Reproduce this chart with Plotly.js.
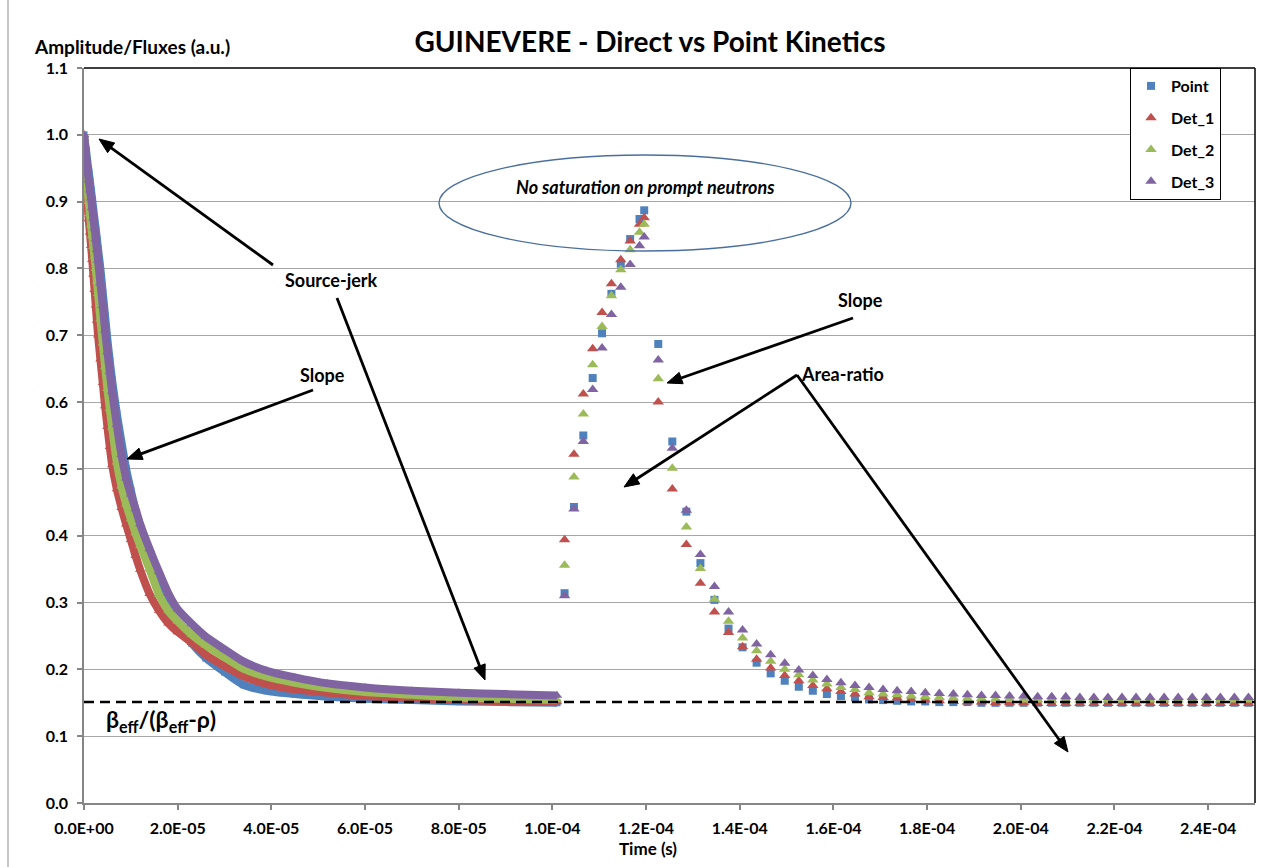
<!DOCTYPE html>
<html>
<head>
<meta charset="utf-8">
<script src="https://cdn.plot.ly/plotly-3.0.1.min.js"></script>
<style>html,body{margin:0;padding:0;background:#fff;}#chart{width:1279px;height:867px;}</style>
</head>
<body>
<div id="chart"></div>
<script>
// ---- Data (times in microseconds) ----
const seriesNames = ["Point", "Det_1", "Det_2", "Det_3"];

// Source-jerk decay (dense part)
const tDense = [0,0.25,0.5,0.75,1,1.25,1.5,1.75,2,2.25,2.5,2.75,3,3.5,4,4.5,5,5.5,6,7,8,9,10,11,12,14,16,18,20,23,26,30,34,39,45,52,60,70,80,90,101];
const pointDense = [1.000,0.987,0.973,0.958,0.945,0.931,0.917,0.903,0.888,0.873,0.859,0.844,0.829,0.800,0.764,0.729,0.693,0.662,0.633,0.583,0.540,0.500,0.468,0.439,0.415,0.363,0.320,0.290,0.269,0.239,0.217,0.196,0.177,0.168,0.163,0.159,0.156,0.154,0.152,0.151,0.150];
const det1Dense  = [1.000,0.962,0.928,0.896,0.874,0.854,0.834,0.813,0.791,0.768,0.745,0.722,0.700,0.664,0.629,0.594,0.563,0.533,0.506,0.470,0.442,0.417,0.394,0.370,0.349,0.313,0.288,0.269,0.256,0.240,0.222,0.205,0.190,0.178,0.170,0.165,0.160,0.157,0.154,0.152,0.151];
const det2Dense  = [1.000,0.970,0.944,0.921,0.900,0.882,0.865,0.849,0.833,0.817,0.800,0.781,0.762,0.724,0.688,0.653,0.620,0.590,0.562,0.510,0.474,0.447,0.425,0.404,0.385,0.350,0.312,0.288,0.272,0.252,0.236,0.218,0.201,0.189,0.180,0.172,0.166,0.162,0.158,0.156,0.154];
const det3Dense  = [1.000,0.982,0.965,0.948,0.932,0.917,0.905,0.891,0.875,0.860,0.844,0.828,0.812,0.778,0.744,0.707,0.675,0.645,0.616,0.566,0.521,0.486,0.462,0.440,0.417,0.380,0.346,0.314,0.290,0.268,0.249,0.230,0.212,0.198,0.188,0.179,0.173,0.168,0.165,0.163,0.161];

// Pulse part
const tPulse = [102.6,104.6,106.6,108.6,110.6,112.6,114.6,116.6,118.6,119.6,
  122.6,125.6,128.6,131.6,134.6,137.6,140.6,143.6,146.6,149.6,152.6,155.6,158.6,161.6,164.6,167.6,170.6,173.6,176.6,179.6,
  182.6,185.6,188.6,191.6,194.6,197.6,200.6,203.6,206.6,209.6,212.6,215.6,218.6,221.6,224.6,227.6,230.6,233.6,236.6,239.6,242.6,245.6,248.6];
const pointPulse = [0.314,0.443,0.550,0.636,0.703,0.762,0.807,0.844,0.874,0.887,
  0.687,0.541,0.436,0.359,0.304,0.261,0.233,0.210,0.194,0.183,0.174,0.168,0.163,0.160,0.158,0.155,0.154,0.153,0.152,0.152,
  0.151,0.151,0.151,0.150,0.150,0.150,0.150,0.150,0.150,0.150,0.150,0.150,0.150,0.150,0.150,0.150,0.150,0.150,0.150,0.150,0.150,0.150,0.150];
const det1Pulse = [0.394,0.522,0.612,0.680,0.734,0.777,0.813,0.841,0.866,0.876,
  0.600,0.470,0.387,0.329,0.286,0.255,0.234,0.215,0.202,0.191,0.183,0.176,0.171,0.167,0.163,0.159,0.158,0.157,0.155,0.154,
  0.153,0.152,0.151,0.151,0.150,0.150,0.150,0.149,0.149,0.149,0.149,0.149,0.149,0.149,0.149,0.149,0.149,0.149,0.149,0.149,0.149,0.149,0.149];
const det2Pulse = [0.356,0.488,0.582,0.656,0.713,0.759,0.798,0.828,0.854,0.866,
  0.635,0.501,0.413,0.351,0.305,0.272,0.247,0.228,0.212,0.200,0.192,0.184,0.178,0.173,0.170,0.165,0.163,0.162,0.160,0.159,
  0.158,0.157,0.156,0.156,0.155,0.155,0.154,0.154,0.154,0.154,0.154,0.154,0.154,0.154,0.154,0.154,0.154,0.154,0.154,0.154,0.154,0.154,0.154];
const det3Pulse = [0.310,0.440,0.541,0.619,0.681,0.731,0.772,0.806,0.834,0.847,
  0.663,0.531,0.438,0.372,0.324,0.286,0.259,0.238,0.222,0.209,0.199,0.191,0.185,0.180,0.176,0.173,0.170,0.168,0.167,0.165,
  0.164,0.163,0.162,0.161,0.161,0.160,0.160,0.159,0.159,0.159,0.158,0.158,0.158,0.158,0.158,0.158,0.158,0.158,0.158,0.158,0.158,0.158,0.158];

const asymptoteLevel = 0.151; // beta_eff/(beta_eff - rho)

const xTickVals = [0,2e-5,4e-5,6e-5,8e-5,1e-4,1.2e-4,1.4e-4,1.6e-4,1.8e-4,2e-4,2.2e-4,2.4e-4];
const xTickText = ["0.0E+00","2.0E-05","4.0E-05","6.0E-05","8.0E-05","1.0E-04","1.2E-04","1.4E-04","1.6E-04","1.8E-04","2.0E-04","2.2E-04","2.4E-04"];

// ---- Styling ----
const colors = ["#4F81BD", "#C0504D", "#9BBB59", "#8064A2"];
const symbols = ["square", "triangle-up", "triangle-up", "triangle-up"];
const sizes = [8, 10, 10, 10];
const FONT = "Lato, 'Open Sans', sans-serif";

const us = t => t * 1e-6;
const denseSets = [pointDense, det1Dense, det2Dense, det3Dense];
const pulseSets = [pointPulse, det1Pulse, det2Pulse, det3Pulse];

const traces = [];
denseSets.forEach((vals, i) => {
  traces.push({
    type: "scatter", mode: "lines+markers",
    x: tDense.map(us), y: vals,
    name: seriesNames[i], legendgroup: "g" + i, showlegend: false,
    line: {color: colors[i], width: 8, shape: "spline", smoothing: 0.6},
    marker: {symbol: symbols[i], color: colors[i], size: sizes[i] - 1},
    hoverinfo: "x+y+name"
  });
});
pulseSets.forEach((vals, i) => {
  traces.push({
    type: "scatter", mode: "markers",
    x: tPulse.map(us), y: vals,
    name: seriesNames[i], legendgroup: "g" + i, showlegend: true,
    marker: {symbol: symbols[i], color: colors[i], size: sizes[i]},
    hoverinfo: "x+y+name"
  });
});

// pixel -> paper helpers (plot area: x 84..1255, y 68..803)
const L = 84, R = 1255, T = 68, B = 803;
const px = p => (p - L) / (R - L);
const py = p => (B - p) / (B - T);

// Arrow drawn as a line shape plus a filled triangular head (pixel positions)
function arrowShapes(tx, ty, hx, hy) {
  const dx = hx - tx, dy = hy - ty, len = Math.hypot(dx, dy);
  const ux = dx / len, uy = dy / len, nx = -uy, ny = ux;
  const hl = 15, hw = 6;
  const bx = hx - ux * hl, by = hy - uy * hl;
  const p = (x, y) => px(x) + "," + py(y);
  return [
    {type: "line", xref: "paper", yref: "paper", x0: px(tx), y0: py(ty), x1: px(bx + ux * 3), y1: py(by + uy * 3),
      line: {color: "#000", width: 2.8}},
    {type: "path", xref: "paper", yref: "paper",
      path: "M" + p(hx, hy) + " L" + p(bx + nx * hw, by + ny * hw) + " L" + p(bx - nx * hw, by - ny * hw) + " Z",
      fillcolor: "#000", line: {color: "#000", width: 1}}
  ];
}
function label(text, cx, cy, size, extra) {
  return Object.assign({xref: "paper", yref: "paper", x: px(cx), y: py(cy), text: text, showarrow: false,
    xanchor: "center", yanchor: "middle",
    font: {family: FONT, size: size, color: "#000", weight: "bold"}}, extra || {});
}

const annotations = [
  label("Amplitude/Fluxes (a.u.)", 132, 46, 19),
  label("Time (s)", 648, 848, 17),
  label("Source-jerk", 331, 280, 18),
  label("Slope", 322, 375, 18),
  label("Slope", 860, 300, 18),
  label("Area-ratio", 842, 374, 18),
  label("No saturation on prompt neutrons", 645, 187, 18, {font: {family: FONT, size: 18, color: "#000", weight: "bold", style: "italic"}}),
  label("β<sub>eff</sub>/(β<sub>eff</sub>-ρ)", 104, 720, 23, {xanchor: "left"})
];

const shapes = [
  {type: "line", xref: "paper", yref: "paper", x0: 0, x1: 1, y0: 1, y1: 1, line: {color: "#000", width: 1.5}},
  {type: "line", xref: "paper", yref: "paper", x0: 1, x1: 1, y0: 0, y1: 1, line: {color: "#000", width: 1.5}},
  {type: "line", xref: "paper", yref: "paper", x0: px(8), x1: px(8), y0: py(0), y1: py(867), line: {color: "#8c8c8c", width: 1}},
  {type: "circle", xref: "paper", yref: "paper", x0: px(439), x1: px(851), y0: py(251), y1: py(155),
    line: {color: "#4A6F9E", width: 1.4}},
  {type: "line", xref: "paper", yref: "y", x0: 0, x1: 1, y0: asymptoteLevel, y1: asymptoteLevel,
    line: {color: "#000", width: 2.5, dash: "10px,6px"}}
].concat(
  arrowShapes(273, 265, 99, 139),
  arrowShapes(337, 298, 485, 680),
  arrowShapes(313, 390, 127, 459),
  arrowShapes(853, 318, 667, 383),
  arrowShapes(797, 375, 624, 487),
  arrowShapes(797, 375, 1068, 752)
);

const tickFont = {family: FONT, size: 16, color: "#000", weight: "bold"};
const layout = {
  width: 1279, height: 867,
  paper_bgcolor: "#fff", plot_bgcolor: "#fff",
  margin: {l: L, r: 1279 - R, t: T, b: 867 - B, pad: 0},
  title: {text: "GUINEVERE - Direct vs Point Kinetics", x: 650 / 1279, xanchor: "center", xref: "container",
    y: 1 - 42 / 867, yref: "container", yanchor: "middle",
    font: {family: FONT, size: 28, color: "#000", weight: "bold"}},
  xaxis: {range: [0, 2.5e-4], tickmode: "array", tickvals: xTickVals, ticktext: xTickText,
    showgrid: false, zeroline: false, showline: true, linecolor: "#868686", linewidth: 1.5,
    ticks: "outside", ticklen: 5, tickcolor: "#868686", tickwidth: 1.5, tickfont: tickFont, ticklabelstandoff: 5},
  yaxis: {range: [0, 1.1], tickmode: "linear", tick0: 0, dtick: 0.1, tickformat: ".1f",
    showgrid: true, gridcolor: "#a6a6a6", gridwidth: 1.3, zeroline: false,
    showline: true, linecolor: "#868686", linewidth: 1.5,
    ticks: "outside", ticklen: 5, tickcolor: "#868686", tickwidth: 1.5, tickfont: tickFont, ticklabelstandoff: 6},
  legend: {x: px(1221), y: 1, xanchor: "right", yanchor: "top", bgcolor: "#fff", bordercolor: "#000", borderwidth: 1,
    font: {family: FONT, size: 16, color: "#000", weight: "bold"}, traceorder: "grouped", tracegroupgap: 8, itemwidth: 30},
  showlegend: true,
  annotations: annotations,
  shapes: shapes
};

Plotly.newPlot("chart", traces, layout, {displayModeBar: false});
</script>
</body>
</html>
